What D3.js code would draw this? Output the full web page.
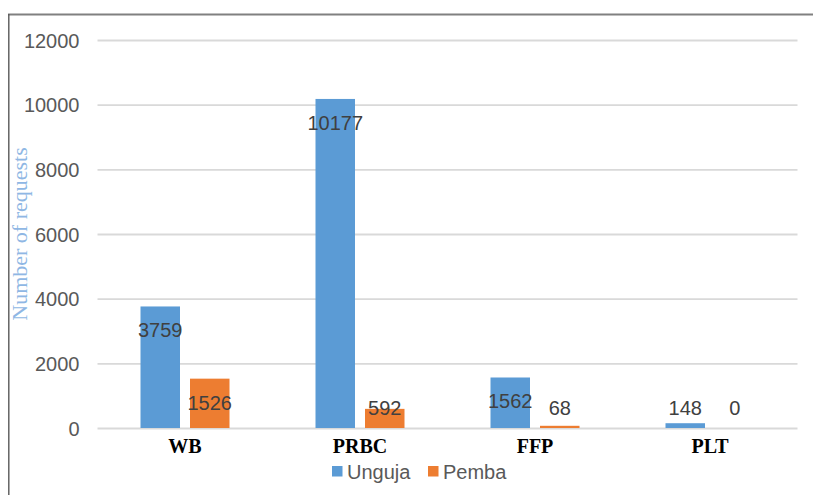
<!DOCTYPE html>
<html>
<head>
<meta charset="utf-8">
<script src="https://cdn.jsdelivr.net/npm/d3@7/dist/d3.min.js"></script>
<style>
  html, body { margin: 0; padding: 0; background: #fff; }
  svg { display: block; }
</style>
</head>
<body>
<svg id="chart" width="813" height="495"></svg>
<script>
// Blood component requests by island
const categories = ["WB", "PRBC", "FFP", "PLT"];
const seriesNames = ["Unguja", "Pemba"];
const unguja = [3759, 10177, 1562, 148];
const pemba = [1526, 592, 68, 0];
const yTicks = [0, 2000, 4000, 6000, 8000, 10000, 12000];
const colors = ["#5B9BD5", "#ED7D31"];

const seriesValues = [unguja, pemba];
const rows = categories.map((c, i) => ({
  cat: c,
  vals: seriesNames.map((s, j) => ({ key: s, idx: j, value: seriesValues[j][i] }))
}));

const svg = d3.select("#chart");
const W = 813, H = 495;

// frame lines (top and left)
svg.append("line").attr("x1", 8).attr("x2", W).attr("y1", 14.5).attr("y2", 14.5)
  .attr("stroke", "#808080").attr("stroke-width", 2);
svg.append("line").attr("x1", 8.8).attr("x2", 8.8).attr("y1", 14).attr("y2", H)
  .attr("stroke", "#595959").attr("stroke-width", 1.4);

const x = d3.scaleBand().domain(categories).range([97.5, 797.5]).padding(0);
const y = d3.scaleLinear().domain([0, 12000]).range([428, 40]);

const barW = 39.5, gap = 10;
const barX = (cat, j) => x(cat) + x.bandwidth() / 2 + (j === 0 ? -gap / 2 - barW : gap / 2);

// gridlines + tick labels
const yAxis = d3.axisLeft(y).tickValues(yTicks).tickSize(-(797.5 - 97.5)).tickPadding(18)
  .tickFormat(d3.format("d"));
const gy = svg.append("g").attr("transform", "translate(97.5,0)").call(yAxis);
gy.select(".domain").remove();
gy.selectAll(".tick line").attr("stroke", "#d9d9d9").attr("stroke-width", 1.8);
gy.selectAll(".tick text").attr("fill", "#595959")
  .style("font-family", "Arial, 'Liberation Sans', sans-serif").style("font-size", "20px")
  .attr("dy", "0.35em");

// bars
const groups = svg.append("g").selectAll("g").data(rows).join("g");
groups.selectAll("rect").data(d => d.vals.map(v => ({ ...v, cat: d.cat }))).join("rect")
  .attr("x", d => barX(d.cat, d.idx))
  .attr("width", barW)
  .attr("y", d => y(d.value))
  .attr("height", d => y(0) - y(d.value))
  .attr("fill", d => colors[d.idx]);

// value labels
groups.selectAll("text.val").data(d => d.vals.map(v => ({ ...v, cat: d.cat }))).join("text")
  .attr("class", "val")
  .attr("x", d => barX(d.cat, d.idx) + barW / 2)
  .attr("y", d => Math.min(y(d.value) + 24, 408))
  .attr("dy", "0.35em")
  .attr("text-anchor", "middle")
  .attr("fill", "#404040")
  .style("font-family", "Arial, 'Liberation Sans', sans-serif").style("font-size", "20px")
  .text(d => d.value);

// category labels
const gx = svg.append("g").attr("transform", "translate(0,428)")
  .call(d3.axisBottom(x).tickSize(0).tickPadding(0));
gx.select(".domain").remove();
gx.selectAll(".tick text")
  .attr("y", 25).attr("dy", 0)
  .attr("fill", "#000")
  .style("font-family", "'Liberation Serif', 'Times New Roman', serif")
  .style("font-size", "20px").style("font-weight", "bold");

// y-axis title
svg.append("text")
  .attr("transform", "translate(27,234) rotate(-90)")
  .attr("text-anchor", "middle")
  .attr("fill", "#8FB7E4")
  .style("font-family", "'Liberation Serif', 'Times New Roman', serif")
  .style("font-size", "22px")
  .text("Number of requests");

// legend
const legend = svg.append("g");
const legX = [332, 428];
seriesNames.forEach((s, j) => {
  const g = legend.append("g").attr("transform", `translate(${legX[j]},466)`);
  g.append("rect").attr("width", 10.5).attr("height", 10.5).attr("fill", colors[j]);
  g.append("text").attr("x", 15).attr("y", 5.5).attr("dy", "0.35em")
    .attr("fill", "#595959")
    .style("font-family", "Arial, 'Liberation Sans', sans-serif").style("font-size", "20px")
    .text(s);
});
</script>
</body>
</html>
